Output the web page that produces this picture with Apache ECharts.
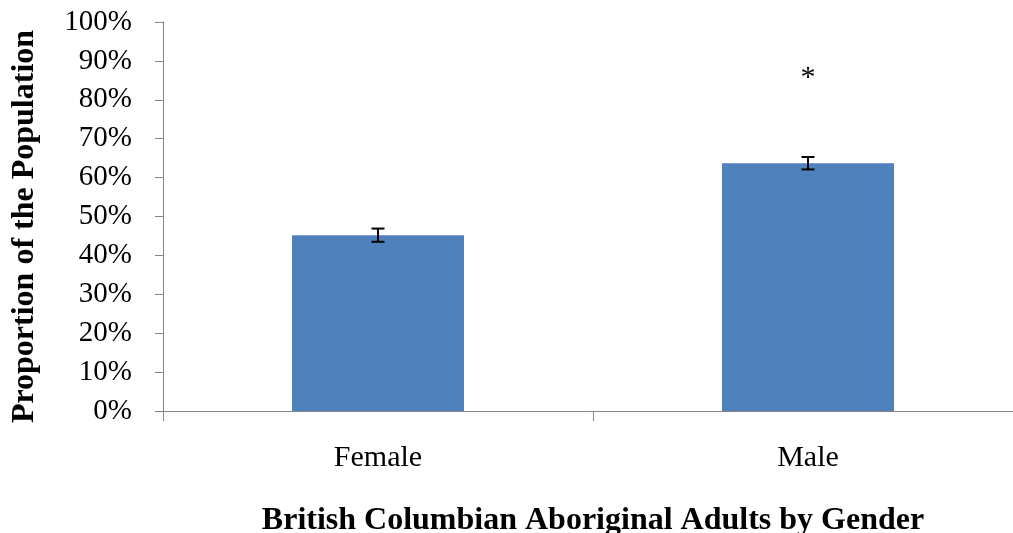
<!DOCTYPE html>
<html>
<head>
<meta charset="utf-8">
<script src="https://cdn.jsdelivr.net/npm/echarts@6/dist/echarts.min.js"></script>
<style>
  html, body { margin: 0; padding: 0; background: #ffffff; }
  #chart { width: 1013px; height: 533px; }
</style>
</head>
<body>
<div id="chart"></div>
<script>
// Share of British Columbian Aboriginal adults, by gender, with error margins
const categories = ['Female', 'Male'];
const proportions = [0.452, 0.637];
const errorMargins = [0.017, 0.016];
const significance = ['', '*'];
const yTicks = [0, 0.1, 0.2, 0.3, 0.4, 0.5, 0.6, 0.7, 0.8, 0.9, 1.0];

const serif = '"Liberation Serif", "Times New Roman", serif';
const axisGrey = '#868686';

const errorData = categories.map((c, i) => [i, proportions[i] - errorMargins[i], proportions[i] + errorMargins[i]]);
const sigData = categories.map((c, i) => [i, proportions[i] + errorMargins[i], significance[i]]);

const chart = echarts.init(document.getElementById('chart'));
chart.setOption({
  animation: false,
  grid: { left: 163, right: -10, top: 22, bottom: 122, containLabel: false, outerBoundsMode: 'none' },
  xAxis: {
    type: 'category',
    data: categories,
    boundaryGap: true,
    name: 'British Columbian Aboriginal Adults by Gender',
    nameLocation: 'middle',
    nameGap: 94,
    nameTextStyle: { fontFamily: serif, fontSize: 32, fontWeight: 'bold', color: '#000' },
    axisLine: { lineStyle: { color: axisGrey, width: 1 } },
    axisTick: { show: true, length: 10, lineStyle: { color: axisGrey } },
    axisLabel: { fontFamily: serif, fontSize: 30, color: '#000', margin: 32 },
    splitLine: { show: false }
  },
  yAxis: {
    type: 'value',
    min: yTicks[0],
    max: yTicks[yTicks.length - 1],
    interval: 0.1,
    name: 'Proportion of the Population',
    nameLocation: 'middle',
    nameGap: 122,
    nameTextStyle: {
      fontFamily: serif, fontSize: 32, fontWeight: 'bold', color: '#000',
      padding: [0, 20, 0, 0]
    },
    axisLine: { show: true, lineStyle: { color: axisGrey, width: 1 } },
    axisTick: { show: true, length: 8, lineStyle: { color: axisGrey } },
    axisLabel: {
      fontFamily: serif, fontSize: 29, color: '#000', margin: 31,
      formatter: v => Math.round(v * 100) + '%'
    },
    splitLine: { show: false }
  },
  series: [
    {
      type: 'bar',
      data: proportions,
      barWidth: '40%',
      itemStyle: { color: '#4F81BD' }
    },
    {
      // error bars with caps
      type: 'custom',
      data: errorData,
      z: 5,
      renderItem: (params, api) => {
        const i = api.value(0);
        const lo = api.coord([i, api.value(1)]);
        const hi = api.coord([i, api.value(2)]);
        const half = 6.5;
        const style = { stroke: '#000', lineWidth: 2 };
        return {
          type: 'group',
          children: [
            { type: 'line', shape: { x1: lo[0], y1: lo[1], x2: hi[0], y2: hi[1] }, style },
            { type: 'line', shape: { x1: hi[0] - half, y1: hi[1], x2: hi[0] + half, y2: hi[1] }, style },
            { type: 'line', shape: { x1: lo[0] - half, y1: lo[1], x2: lo[0] + half, y2: lo[1] }, style }
          ]
        };
      }
    },
    {
      // significance marker above the error bar
      type: 'custom',
      data: sigData,
      z: 6,
      renderItem: (params, api) => {
        const i = api.value(0);
        const p = api.coord([i, api.value(1)]);
        return {
          type: 'text',
          style: {
            x: p[0], y: p[1] - 64,
            text: sigData[params.dataIndex][2],
            font: '30px ' + serif,
            fill: '#000',
            align: 'center',
            verticalAlign: 'bottom'
          }
        };
      }
    }
  ]
});
</script>
</body>
</html>
